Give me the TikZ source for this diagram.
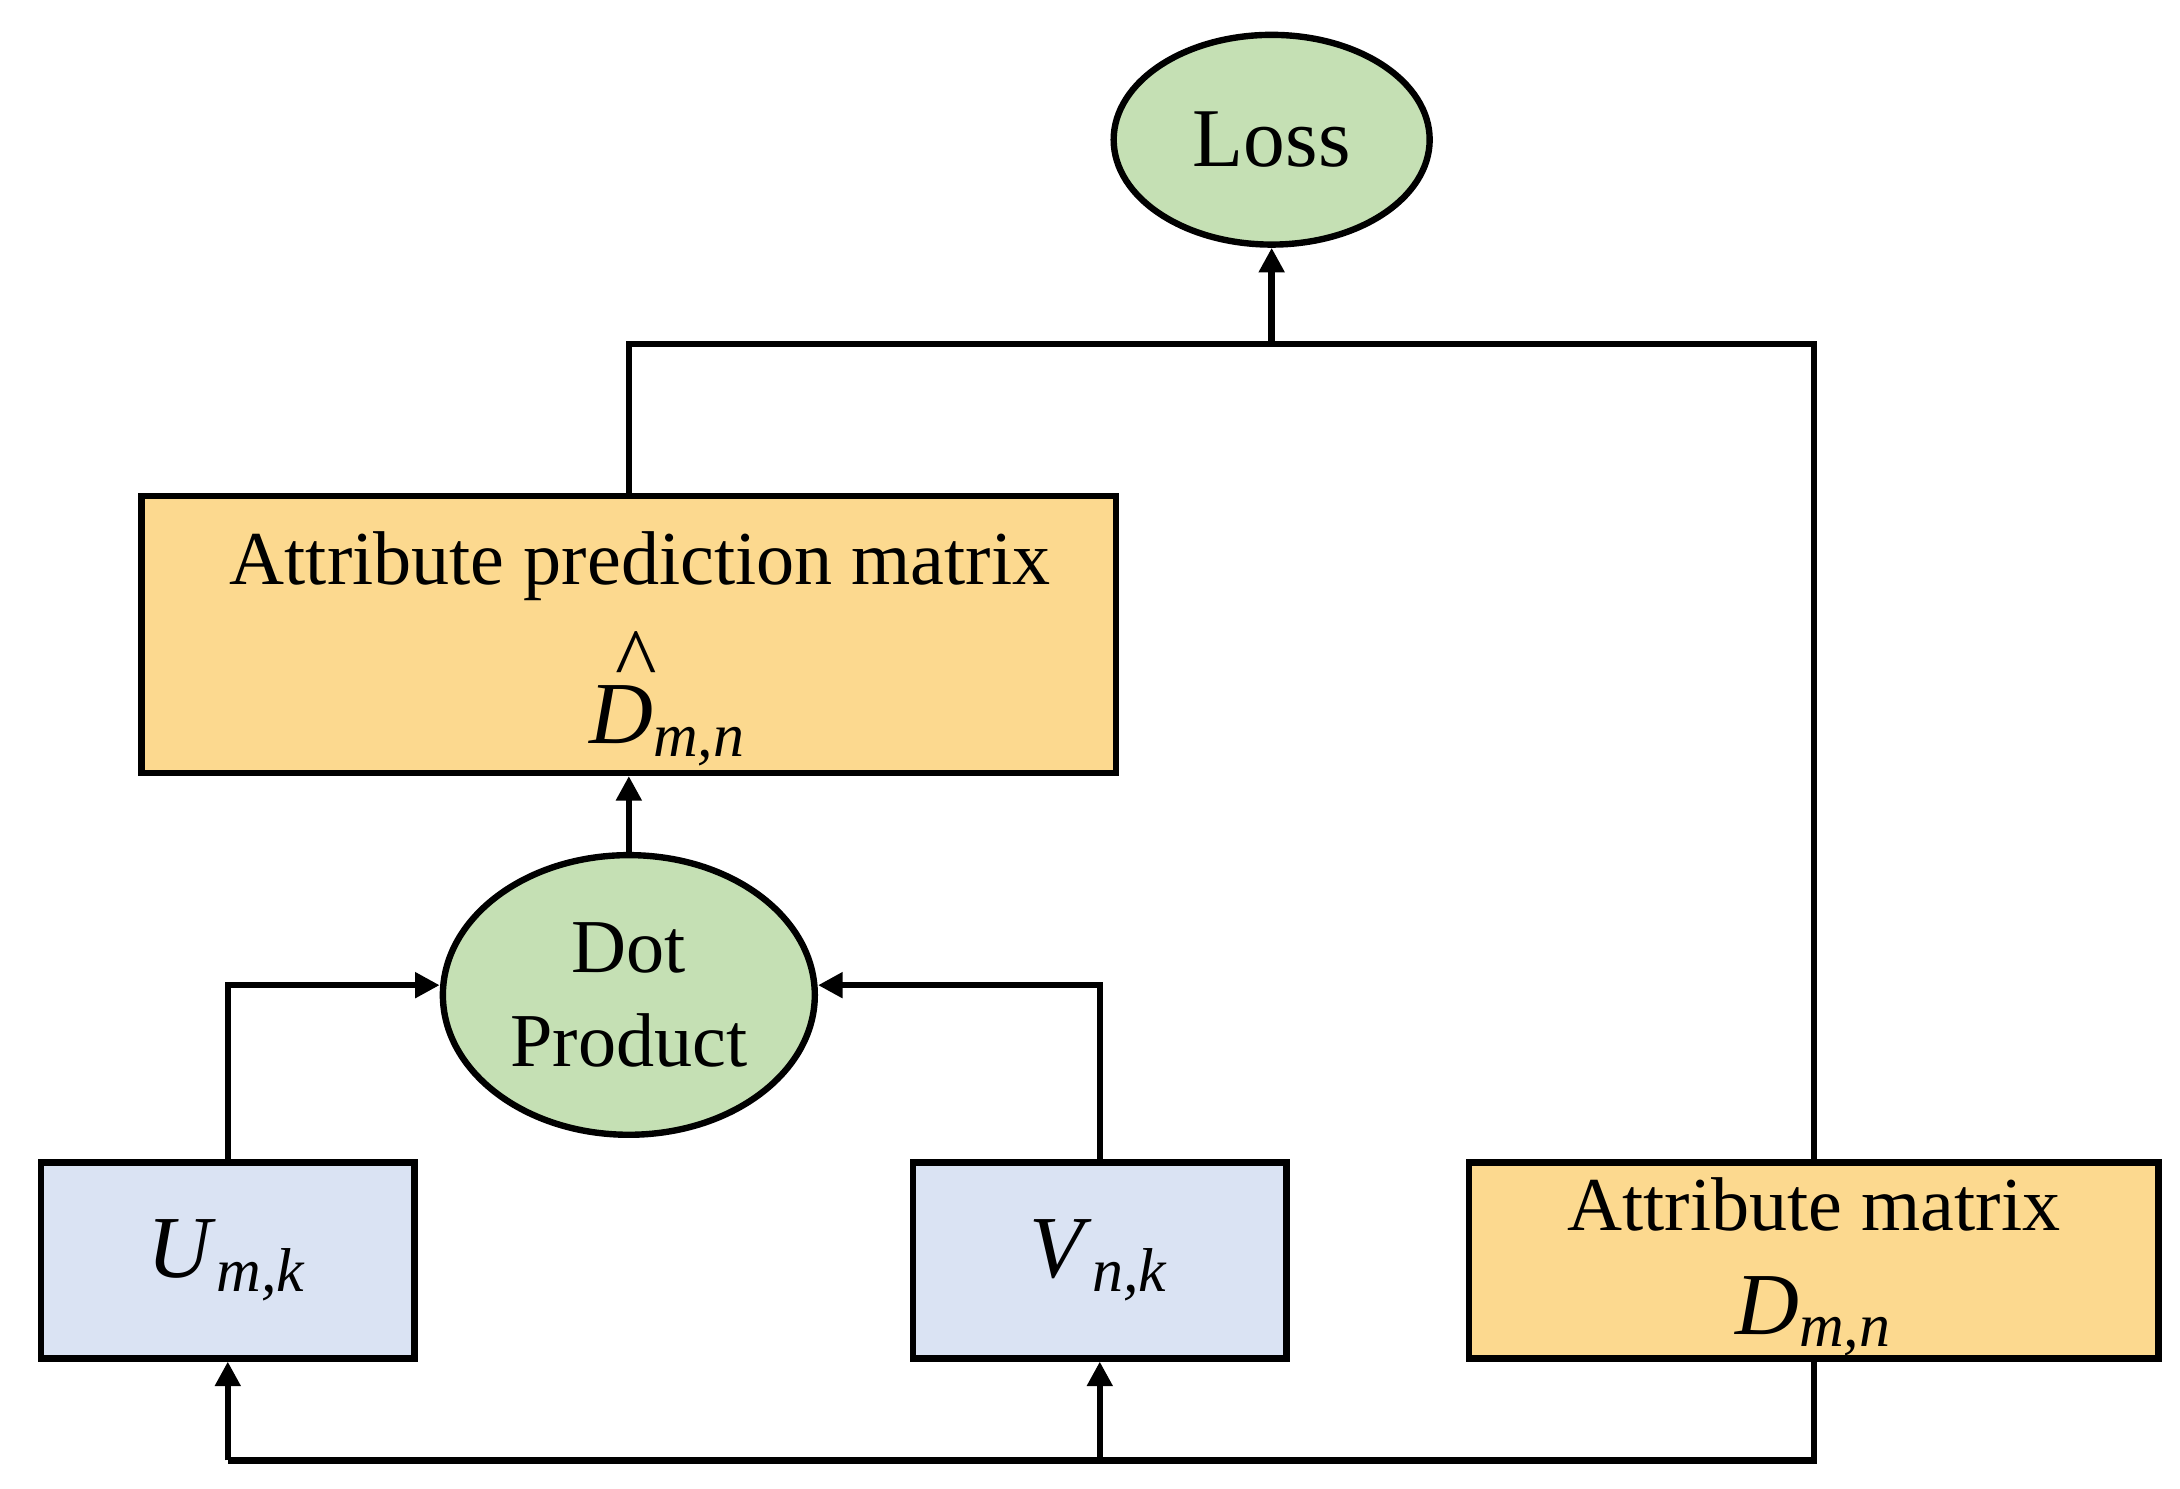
\documentclass[tikz,border=0pt]{standalone}
\usepackage{fontspec}
\setmainfont{Liberation Serif}
\usetikzlibrary{shapes.geometric,arrows.meta}
\definecolor{yel}{HTML}{FCD98F}
\definecolor{grn}{HTML}{C5E0B4}
\definecolor{blu}{HTML}{DAE3F3}
\newcommand{\sym}[2]{\textit{#1}\textsubscript{\textit{#2}}}
\begin{document}
\begin{tikzpicture}[x=0.01cm,y=-0.01cm,
  box/.style={draw,line width=1.3pt,inner sep=0pt},
  ell/.style={draw,ellipse,fill=grn,line width=1.3pt,inner sep=0pt},
  ln/.style={line width=1.3pt},
  arr/.style={ln,-{Triangle[length=5pt,width=5pt]}},
  font=\fontsize{15.5}{19}\selectfont]
\useasboundingbox (0,0) rectangle (1560,1065);
\node[ell,minimum width=2.26cm,minimum height=1.5cm,font=\fontsize{17}{20}\selectfont] (loss) at (910,100) {Loss};
\node[box,fill=yel,minimum width=6.97cm,minimum height=1.98cm] (pred) at (450,454) {};
\node (pt) at (458,405) {Attribute prediction matrix};
\node (ph) at (478,500) {\fontsize{18}{22}\selectfont\makebox[0pt][l]{\kern0.3em\raisebox{0.62em}{\^{}}}\textit{D}\textsubscript{\textit{m,n}}};
\node[ell,minimum width=2.66cm,minimum height=2.0cm,align=center] (dot) at (450,712) {Dot\\Product};
\node[box,fill=blu,minimum width=2.67cm,minimum height=1.4cm] (u) at (163,902) {\fontsize{18}{22}\selectfont\sym{U}{m,k}};
\node[box,fill=blu,minimum width=2.67cm,minimum height=1.4cm] (v) at (787,902) {\fontsize{18}{22}\selectfont\sym{V}{n,k}};
\node[box,fill=yel,minimum width=4.93cm,minimum height=1.4cm] (d) at (1298,902) {};
\node (dt) at (1298,862) {Attribute matrix};
\node (dm) at (1298,942) {\fontsize{18}{22}\selectfont\sym{D}{m,n}};
\coordinate (j) at (910,246);
\draw[ln] (pred.north) -- (450,246) -- (1298,246) -- (d.north);
\draw[arr] (j) -- (loss.south);
\draw[arr] (dot.north) -- (pred.south);
\draw[arr] (u.north) -- (163,705) -- (dot.west |- 0,705);
\draw[arr] (v.north) -- (787,705) -- (dot.east |- 0,705);
\draw[ln] (d.south) -- (1298,1045) -- (163,1045);
\draw[arr] (163,1045) -- (u.south);
\draw[arr] (787,1045) -- (v.south);
\end{tikzpicture}
\end{document}
